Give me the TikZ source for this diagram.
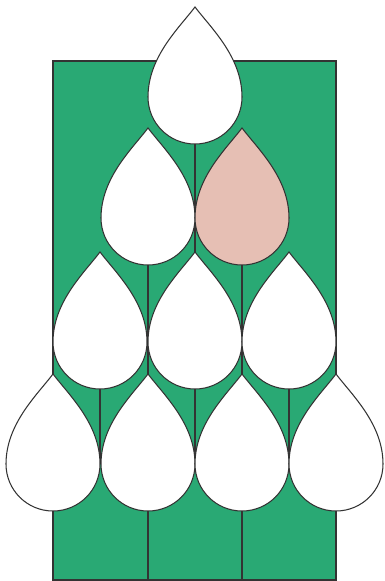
\documentclass[tikz,border=0pt]{standalone}
\definecolor{leaf}{RGB}{41,169,116}
\definecolor{pinkdrop}{RGB}{230,191,180}
\definecolor{ink}{RGB}{51,51,51}
\tikzset{
  outline/.style={draw=ink,line width=1.05pt,line join=miter},
  stem/.style={draw=ink,line width=1.05pt},
  pics/drop/.style={code={
    \path[outline,fill=#1] (0,-90) .. controls (16,-69) and (47,-40) .. (47,0)
      .. controls (47,26) and (26,47) .. (0,47)
      .. controls (-26,47) and (-47,26) .. (-47,0)
      .. controls (-47,-40) and (-16,-69) .. (0,-90) -- cycle;
  }},
  pics/drop/.default=white
}
\begin{document}
\begin{tikzpicture}[x=1pt,y=-1pt]
\useasboundingbox (0,0) rectangle (384,581);
\path[outline,fill=leaf] (53,61) rectangle (336,580);
% named anchor points
\foreach \n/\x/\y in {a/195/97, b1/148/218, b2/242/218, c1/100/342, c2/195/342, c3/289/342,
  d1/53/464, d2/148/464, d3/242/464, d4/336/464}{
  \coordinate (\n) at (\x,\y);
  \coordinate (\n-bot) at (\x,\y+47);
  \coordinate (\n-tip) at (\x,\y-90);
}
\coordinate (e2) at (148,580);
\coordinate (e3) at (242,580);
% stems
\draw[stem] (a-bot) -- (c2-tip);
\draw[stem] (b1-bot) -- (d2-tip);
\draw[stem] (b2-bot) -- (d3-tip);
\draw[stem] (c1-bot) -- (c1-bot |- d1);
\draw[stem] (c2-bot) -- (c2-bot |- d1);
\draw[stem] (c3-bot) -- (c3-bot |- d1);
\draw[stem] (d2-bot) -- (e2);
\draw[stem] (d3-bot) -- (e3);
% drops
\pic at (a) {drop};
\pic at (b1) {drop};
\pic at (b2) {drop=pinkdrop};
\pic at (c1) {drop};
\pic at (c2) {drop};
\pic at (c3) {drop};
\pic at (d1) {drop};
\pic at (d2) {drop};
\pic at (d3) {drop};
\pic at (d4) {drop};
\end{tikzpicture}
\end{document}
